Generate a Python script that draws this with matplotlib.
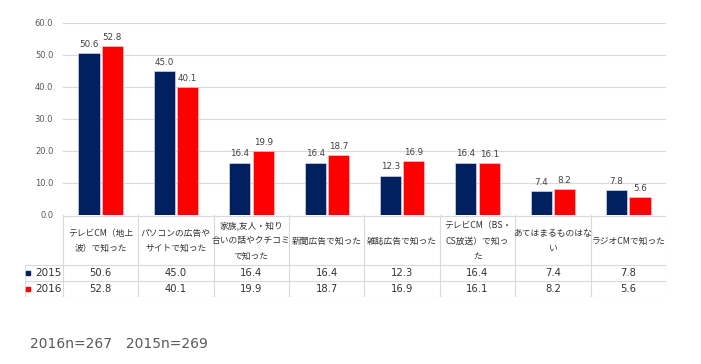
"""Recognition channels 2015 vs 2016: grouped bars with a data table below."""

import matplotlib

matplotlib.use("Agg")
import matplotlib.pyplot as plt

plt.rcParams["font.family"] = ["DejaVu Sans", "Noto Sans CJK JP"]

categories = [
    "テレビCM（地上\n波）で知った",
    "パソコンの広告や\nサイトで知った",
    "家族,友人・知り\n合いの話やクチコミ\nで知った",
    "新聞広告で知った",
    "雑誌広告で知った",
    "テレビCM（BS・\nCS放送）で知っ\nた",
    "あてはまるものはな\nい",
    "ラジオCMで知った",
]
values_2015 = [50.6, 45.0, 16.4, 16.4, 12.3, 16.4, 7.4, 7.8]
values_2016 = [52.8, 40.1, 19.9, 18.7, 16.9, 16.1, 8.2, 5.6]
series_names = ["2015", "2016"]
y_ticks = [0, 10, 20, 30, 40, 50, 60]
note = "2016n=267\u30002015n=269"

NAVY = "#002060"
RED = "#FF0000"
GRID = "#D9D9D9"
TEXT = "#404040"

W, H = 701, 364
fig = plt.figure(figsize=(W / 100, H / 100), dpi=100)

# bar area, in pixel terms: x 63..666, y 23..215
ax = fig.add_axes([63 / W, (H - 215) / H, 603 / W, 192 / H])
n = len(categories)
xs = list(range(n))
width = 0.28
off = 0.155
bars15 = ax.bar([x - off for x in xs], values_2015, width, color=NAVY, edgecolor="#E8E8F0", linewidth=0.4, zorder=3)
bars16 = ax.bar([x + off for x in xs], values_2016, width, color=RED, edgecolor="#FFD0D0", linewidth=0.4, zorder=3)
for bars in (bars15, bars16):
    for b in bars:
        ax.annotate(f"{b.get_height():.1f}", (b.get_x() + b.get_width() / 2, b.get_height()),
                    textcoords="offset points", xytext=(0, 3), ha="center", va="bottom",
                    fontsize=6.3, color=TEXT)

ax.set_xlim(-0.5, n - 0.5)
ax.set_ylim(0, 60)
ax.set_yticks(y_ticks)
ax.set_yticklabels([f"{v:.1f}" for v in y_ticks], fontsize=6, color="#595959")
ax.set_xticks([])
ax.tick_params(axis="y", length=0, pad=7)
ax.yaxis.grid(True, color=GRID, linewidth=0.8, zorder=0)
for s in ax.spines.values():
    s.set_visible(False)

# data table, pixel coords: x 25..666, y 215..297
tb = fig.add_axes([25 / W, (H - 297) / H, 641 / W, 82 / H])
tb.set_xlim(-1.0, n - 0.5)
tb.set_ylim(297, 215)
tb.axis("off")

lw = 0.8
tb.plot([-0.5, n - 0.5], [215.5, 215.5], color=GRID, lw=lw)
for yy in (265, 281, 296.5):
    tb.plot([-1.0, n - 0.5], [yy, yy], color=GRID, lw=lw)
tb.plot([-0.995, -0.995], [265, 297], color=GRID, lw=lw)
for i in range(n + 1):
    tb.plot([i - 0.5, i - 0.5], [215, 297], color=GRID, lw=lw)

for i, label in enumerate(categories):
    tb.text(i, 241, label, ha="center", va="center", fontsize=6.3, color="#333333",
            linespacing=1.85, family=["Noto Sans CJK JP", "DejaVu Sans"])

for row_y, name, vals, col in ((273, series_names[0], values_2015, NAVY),
                               (289, series_names[1], values_2016, RED)):
    tb.plot([-0.962], [row_y], marker="s", markersize=3.3, color=col, linestyle="none")
    tb.text(-0.86, row_y, name, ha="left", va="center", fontsize=7.5, color="#333333")
    for i, v in enumerate(vals):
        tb.text(i, row_y, f"{v:.1f}", ha="center", va="center", fontsize=7.2, color="#333333")

fig.text(30 / W, 1 - 344 / H, note, ha="left", va="center", fontsize=10, color="#595959")

fig.savefig("out.png", dpi=100, facecolor="white")
